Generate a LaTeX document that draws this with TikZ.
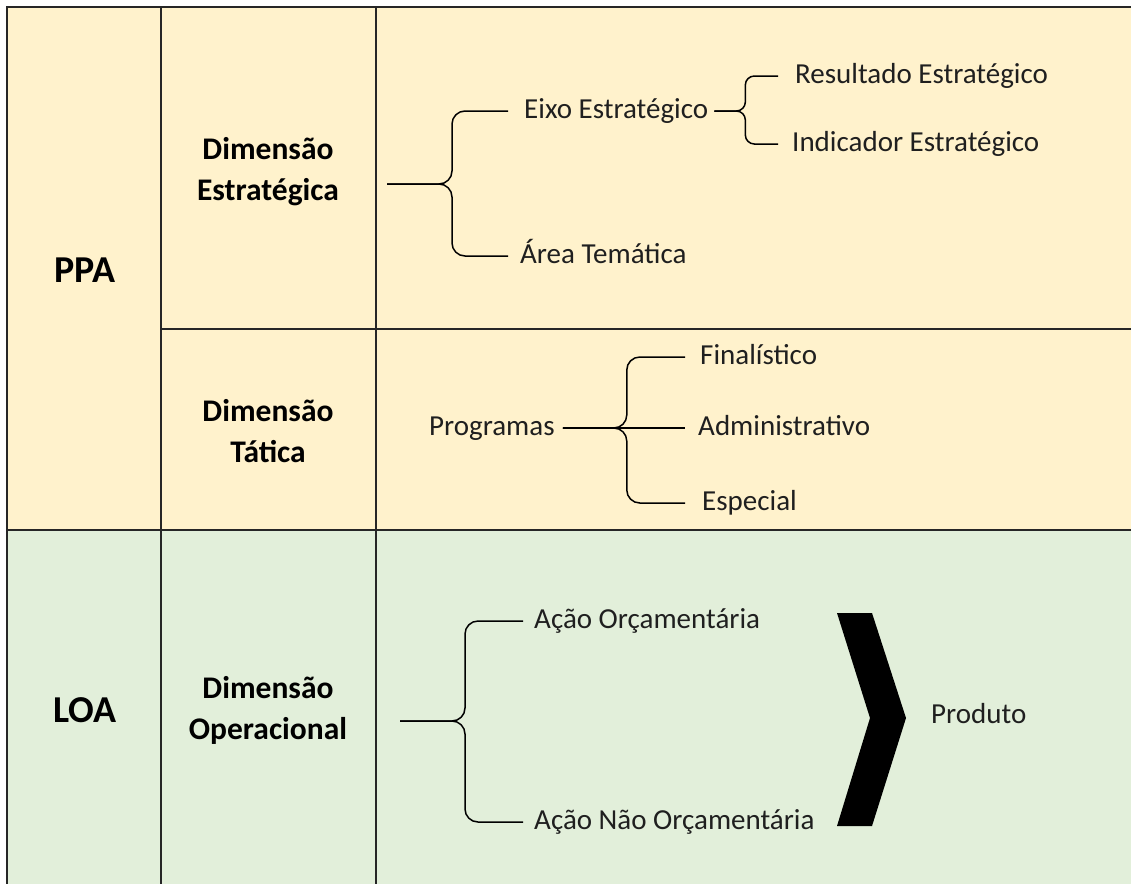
\documentclass[tikz,border=0pt]{standalone}
\usepackage{fontspec}
\setmainfont{Carlito}
\usepackage{xcolor}
\definecolor{planbg}{HTML}{FFF2CC}
\definecolor{budgetbg}{HTML}{E2EFDA}
\definecolor{gridink}{HTML}{262626}
\definecolor{itemink}{HTML}{1F1F1F}

\begin{document}
\begin{tikzpicture}[x=1pt, y=-1pt,
  grid/.style={draw=gridink, line width=2pt},
  fork/.style={draw=black, line width=1.5pt, rounded corners=13pt},
  item/.style={font=\fontsize{29}{32}\selectfont, text=itemink,
               anchor=base west, inner sep=0pt,
               text height=20pt, text depth=6pt},
  dimlbl/.style={font=\fontsize{31.5}{41}\selectfont\bfseries, align=center},
  planlbl/.style={font=\fontsize{38}{40}\selectfont\bfseries, anchor=base}]

\useasboundingbox (0,0) rectangle (1131,884);

% cells
\fill[planbg] (7,7) rectangle (1131,530);
\fill[budgetbg] (7,530) rectangle (1131,884);
\draw[grid] (1131,7) -- (7,7) -- (7,884);
\draw[grid] (161,7) -- (161,884);
\draw[grid] (376,7) -- (376,884);
\draw[grid] (161,329) -- (1131,329);
\draw[grid] (7,530) -- (1131,530);

% first column
\node[planlbl] (ppa) at (85,282) {PPA};
\node[planlbl] (loa) at (85,722) {LOA};

% second column
\node[dimlbl] (estr) at (268,172) {Dimensão\\Estratégica};
\node[dimlbl] (tat)  at (268,431) {Dimensão\\Tática};
\node[dimlbl] (oper) at (268,710) {Dimensão\\Operacional};

% strategic row
\coordinate (estrfork) at (387,184);
\node[item] (eixo)   at (524,118) {Eixo Estratégico};
\node[item] (area)   at (520,263) {Área Temática};
\node[item] (result) at (795,83)  {Resultado Estratégico};
\node[item] (indic)  at (792,151) {Indicador Estratégico};
\draw[fork] (estrfork) -- ++(65,0) |- ([xshift=-16pt]eixo.west);
\draw[fork] (estrfork) -- ++(65,0) |- ([xshift=-12pt]area.west);
\draw[fork, rounded corners=9pt] ([xshift=6pt]eixo.east) -- ++(31,0) |- ([xshift=-17pt]result.west);
\draw[fork, rounded corners=9pt] ([xshift=6pt]eixo.east) -- ++(31,0) |- ([xshift=-14pt]indic.west);

% tactical row
\node[item] (prog)  at (429,435) {Programas};
\node[item] (final) at (700,364) {Finalístico};
\node[item] (admin) at (698,435) {Administrativo};
\node[item] (espec) at (702,510) {Especial};
\draw[fork] ([xshift=8pt]prog.east) -- ++(64,0) |- ([xshift=-15pt]final.west);
\draw[fork] ([xshift=8pt]prog.east) -- ([xshift=-13pt]admin.west);
\draw[fork] ([xshift=8pt]prog.east) -- ++(64,0) |- ([xshift=-17pt]espec.west);

% operational row
\coordinate (operfork) at (400,721);
\node[item] (acao)  at (534,628) {Ação Orçamentária};
\node[item] (acaon) at (534,829) {Ação Não Orçamentária};
\node[item] (prod)  at (931,723) {Produto};
\draw[fork] (operfork) -- ++(65,0) |- ([xshift=-11pt]acao.west);
\draw[fork] (operfork) -- ++(65,0) |- ([xshift=-11pt]acaon.west);

% chevron
\fill[black] (837,613) -- (872,613) -- (906,718) -- (872,826)
  -- (837,826) -- (870,718) -- cycle;

\end{tikzpicture}
\end{document}
